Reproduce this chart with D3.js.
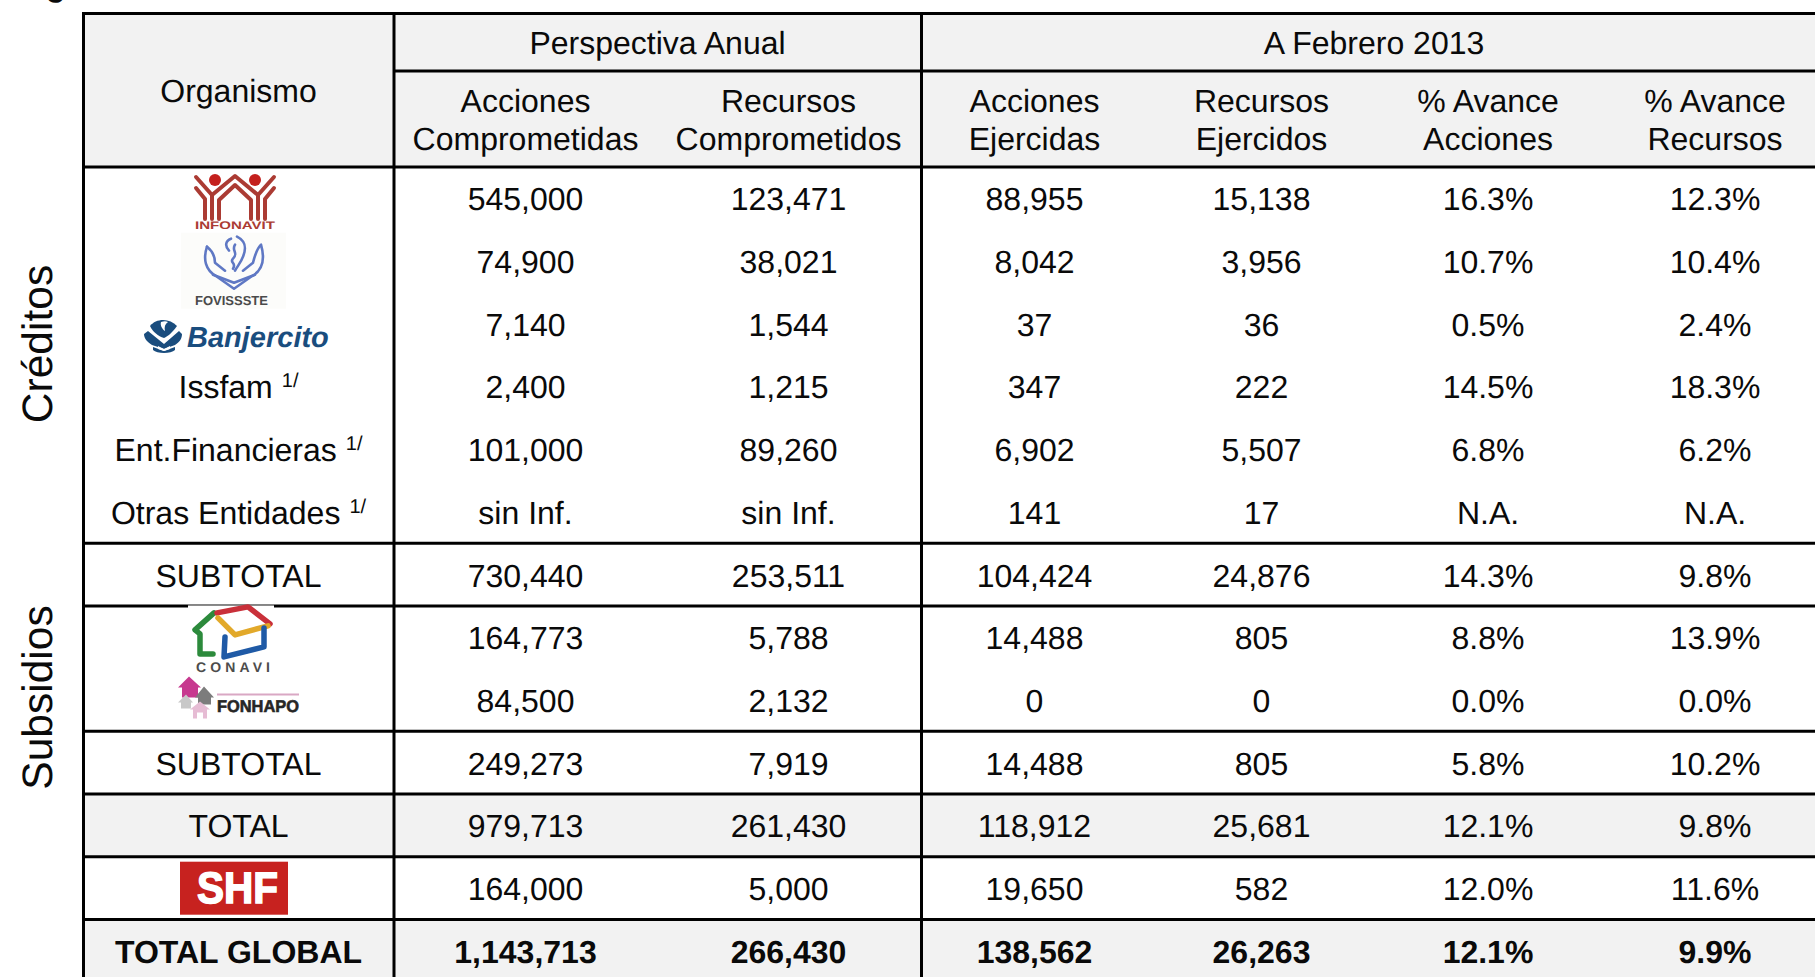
<!DOCTYPE html>
<html>
<head>
<meta charset="utf-8">
<script src="https://cdn.jsdelivr.net/npm/d3@7"></script>
<style>
  html, body { margin: 0; padding: 0; background: #fff; overflow: hidden; }
  text { font-family: "Liberation Sans", Arial, sans-serif; fill: #0a0a0a; text-rendering: geometricPrecision; }
</style>
</head>
<body>
<div id="chart"></div>
<script>
const rows = ['infonavit', 'fovissste', 'banjercito', 'issfam', 'financieras', 'otras', 'subtotal1',
  'conavi', 'fonhapo', 'subtotal2', 'total', 'sif', 'global'];

const rowNames = ['', '', '', 'Issfam', 'Ent.Financieras', 'Otras Entidades', 'SUBTOTAL',
  '', '', 'SUBTOTAL', 'TOTAL', '', 'TOTAL GLOBAL'];
const footnoted = ['issfam', 'financieras', 'otras'];

const accionesComp = ['545,000', '74,900', '7,140', '2,400', '101,000', 'sin Inf.', '730,440',
  '164,773', '84,500', '249,273', '979,713', '164,000', '1,143,713'];
const recursosComp = ['123,471', '38,021', '1,544', '1,215', '89,260', 'sin Inf.', '253,511',
  '5,788', '2,132', '7,919', '261,430', '5,000', '266,430'];
const accionesEjer = ['88,955', '8,042', '37', '347', '6,902', '141', '104,424',
  '14,488', '0', '14,488', '118,912', '19,650', '138,562'];
const recursosEjer = ['15,138', '3,956', '36', '222', '5,507', '17', '24,876',
  '805', '0', '805', '25,681', '582', '26,263'];
const avanceAcciones = ['16.3%', '10.7%', '0.5%', '14.5%', '6.8%', 'N.A.', '14.3%',
  '8.8%', '0.0%', '5.8%', '12.1%', '12.0%', '12.1%'];
const avanceRecursos = ['12.3%', '10.4%', '2.4%', '18.3%', '6.2%', 'N.A.', '9.8%',
  '13.9%', '0.0%', '10.2%', '9.8%', '11.6%', '9.9%'];

const columns = ['accionesComp', 'recursosComp', 'accionesEjer', 'recursosEjer', 'avanceAcciones', 'avanceRecursos'];
const columnValues = [accionesComp, recursosComp, accionesEjer, recursosEjer, avanceAcciones, avanceRecursos];
const columnHeads = [
  ['Acciones', 'Comprometidas'], ['Recursos', 'Comprometidos'],
  ['Acciones', 'Ejercidas'], ['Recursos', 'Ejercidos'],
  ['% Avance', 'Acciones'], ['% Avance', 'Recursos']
];

const width = 1815, height = 977;

const svg = d3.select('#chart')
  .append('svg')
  .attr('width', width)
  .attr('height', height)
  .style('display', 'block');

const rowY = d3.scaleBand().domain(rows).range([167, 167 + 13 * 62.7]);
const colX = d3.scaleOrdinal().domain(columns).range([525.5, 788.5, 1034.5, 1261.5, 1488, 1715]);

const xLeft = 83.5, xName = 394, xGroup = 921.5, yTop = 13.5, yGroup = 71, yHead = 167;
const nameX = 238.5;
const shadeColor = '#f2f2f2';
const bodySize = 32;
const rowBaseline = d => rowY(d) + rowY.bandwidth() / 2 + 12;

// shaded cells
const shade = svg.append('g').attr('fill', shadeColor);
shade.append('rect').attr('x', xLeft).attr('y', yTop).attr('width', width - xLeft).attr('height', yHead - yTop);
shade.selectAll('rect.band')
  .data(['total', 'global'])
  .join('rect')
  .attr('class', 'band')
  .attr('x', xLeft)
  .attr('y', d => rowY(d))
  .attr('width', width - xLeft)
  .attr('height', rowY.bandwidth());

// the cut off letter at the very top of the slide
svg.append('text').attr('x', 46).attr('y', -4).attr('font-size', 32).attr('font-weight', 'bold').text('g');

// header
const head = svg.append('g').attr('font-size', bodySize).attr('text-anchor', 'middle');
head.append('text').attr('x', nameX).attr('y', 102).text('Organismo');
head.append('text').attr('x', 657.5).attr('y', 54).text('Perspectiva Anual');
head.append('text').attr('x', 1374).attr('y', 54).text('A Febrero 2013');

columns.forEach((c, i) => {
  columnHeads[i].forEach((line, j) => {
    head.append('text')
      .attr('x', colX(c))
      .attr('y', 112 + j * 38)
      .text(line);
  });
});

// body values
columns.forEach((c, i) => {
  svg.append('g')
    .attr('font-size', bodySize)
    .attr('text-anchor', 'middle')
    .selectAll('text')
    .data(columnValues[i])
    .join('text')
    .attr('x', colX(c))
    .attr('y', (_, k) => rowBaseline(rows[k]))
    .attr('font-weight', (_, k) => rows[k] === 'global' ? 'bold' : null)
    .text(d => d);
});

// row names
const names = svg.append('g')
  .attr('font-size', bodySize)
  .attr('text-anchor', 'middle')
  .selectAll('text')
  .data(rows.filter((_, k) => rowNames[k] !== ''))
  .join('text')
  .attr('x', nameX)
  .attr('y', rowBaseline)
  .attr('font-weight', d => d === 'global' ? 'bold' : null)
  .text(d => rowNames[rows.indexOf(d)]);

names.filter(d => footnoted.includes(d))
  .append('tspan')
  .attr('font-size', 20)
  .attr('dx', 9)
  .attr('dy', -11)
  .text('1/');

// rotated group labels
const sideLabel = (label, cy) => {
  svg.append('text')
    .attr('transform', `translate(52, ${cy}) rotate(-90)`)
    .attr('text-anchor', 'middle')
    .attr('font-size', 42.5)
    .text(label);
};
sideLabel('Créditos', 344);
sideLabel('Subsidios', 697.5);

// rules
const rules = svg.append('g').attr('stroke', '#000').attr('stroke-width', 3);
rules.selectAll('line.v')
  .data([xLeft, xName, xGroup])
  .join('line')
  .attr('class', 'v')
  .attr('x1', d => d).attr('x2', d => d)
  .attr('y1', yTop - 1.5).attr('y2', height);
rules.selectAll('line.h')
  .data([yTop, yHead, rowY('subtotal1'), rowY('conavi'), rowY('subtotal2'), rowY('total'), rowY('sif'), rowY('global')])
  .join('line')
  .attr('class', 'h')
  .attr('x1', xLeft).attr('x2', width)
  .attr('y1', d => d).attr('y2', d => d);
rules.append('line').attr('x1', xName).attr('x2', width).attr('y1', yGroup).attr('y2', yGroup);

// logos, drawn in their own small coordinate boxes
const logo = (row, dx, dy) => svg.append('g')
  .attr('transform', `translate(${dx}, ${rowY(row) + dy})`);

const strokes = (g, color, w, paths) => {
  g.append('g')
    .attr('fill', 'none')
    .attr('stroke', color)
    .attr('stroke-width', w)
    .attr('stroke-linecap', 'round')
    .attr('stroke-linejoin', 'round')
    .selectAll('path')
    .data(paths)
    .join('path')
    .attr('d', d => d);
};

const fills = (g, items) => {
  g.append('g')
    .selectAll('path')
    .data(items)
    .join('path')
    .attr('fill', d => d[0])
    .attr('d', d => d[1]);
};

// Infonavit
const inf = logo('infonavit', 195, 7);
strokes(inf, '#ab3b33', 4, [
  'M1,14 L10,25 V45',
  'M1,3 L17,21 V45',
  'M17,21 L40,2 L63,21 V45',
  'M24,45 V26 L40,11 L56,26 V45',
  'M79,14 L70,25 V45',
  'M79,3 L63,21'
]);
inf.selectAll('circle').data([20, 60]).join('circle')
  .attr('cx', d => d).attr('cy', 6).attr('r', 6).attr('fill', '#c4201d');
inf.append('text').attr('x', 0).attr('y', 54.5).attr('font-size', 11).attr('font-weight', 'bold')
  .attr('textLength', 80).attr('lengthAdjust', 'spacingAndGlyphs')
  .style('fill', '#ab3b33').text('INFONAVIT');

// Fovissste
const fov = logo('fovissste', 181, 3);
fov.append('rect').attr('width', 105).attr('height', 76).attr('fill', '#fcfcfa');
strokes(fov, '#5f78c4', 2.6, [
  'M26,14 C22,26 24,38 36,44 L53,56 L70,44 C82,38 84,26 80,12 C76,16 74,22 72,30 L62,38',
  'M26,14 C31,18 34,24 34,30 L44,38',
  'M32,42 L53,50 L74,42',
  'M50,6 C44,8 44,14 48,18 M56,4 C64,8 66,14 62,24 C60,30 56,34 54,38',
  'M54,12 C50,18 58,20 52,26 C48,30 56,30 52,36'
]);
fov.append('text').attr('x', 14).attr('y', 72).attr('font-size', 13).attr('font-weight', 'bold')
  .attr('textLength', 73).attr('lengthAdjust', 'spacingAndGlyphs')
  .style('fill', '#4a4a4a').text('FOVISSSTE');

// Banjercito
const ban = logo('banjercito', 144, 25.6);
fills(ban, [
  ['#1a4d7e', 'M6,8 C12,0 26,0 33,8 C28,15 24,18 20,20 C14,18 9,14 6,8 Z'],
  ['#fff', 'M17,4 C20,3 22,3 24,4 C21,6 20,9 21,13 C18,11 16,7 17,4 Z'],
  ['#1a4d7e', 'M0,16 L4,13 L20,26 L35,13 L38,16 C38,20 36,24 31,27 L20,31 L8,27 C3,24 0,20 0,16 Z'],
  ['#1a4d7e', 'M9,29 L20,33 L31,29 V32 C27,36 13,36 9,32 Z'],
  ['#fff', 'M14,28 L20,31 L26,28 L26,31 L20,33 L14,31 Z']
]);
ban.append('text').attr('x', 43).attr('y', 28.7)
  .attr('font-size', 29).attr('font-weight', 'bold').attr('font-style', 'italic')
  .style('fill', '#1a4d7e').text('Banjercito');

// Conavi
const con = logo('conavi', 150, -6);
con.append('rect').attr('x', 38).attr('y', 4.5).attr('width', 86).attr('height', 1.6).attr('fill', '#8a8a8a');
con.append('rect').attr('x', 38).attr('y', 6.1).attr('width', 86).attr('height', 2.6).attr('fill', '#fff');
strokes(con, '#2c8a3c', 5.5, ['M64,13 L45,30 L50,34 V54 H63']);
strokes(con, '#c9303a', 5.5, ['M67,13 L98,7 L120,24']);
strokes(con, '#e2a92a', 5.5, ['M68,18 L85,35 L118,26']);
strokes(con, '#1f5aa6', 5.5, ['M75,37 L74,57 L114,47 V28']);
con.append('text').attr('x', 46).attr('y', 72).attr('font-size', 14).attr('font-weight', 'bold')
  .attr('textLength', 74).style('fill', '#4c4c4c').text('CONAVI');

// Fonhapo
const fon = logo('fonhapo', 177, 6);
fills(fon, [
  ['#c7398f', 'M1,13 L12,2 L24,13 H21 V23 H5 V13 Z'],
  ['#7c7c7c', 'M18,23 L27,12 L37,23 H34 V30 H21 V23 Z'],
  ['#c8c8c8', 'M1,28 L9,20 L16,28 H14 V34 H4 V28 Z'],
  ['#e6bcd4', 'M13,35 L23,27 L33,35 H30 V44 H26 V38 H20 V44 H16 V35 Z']
]);
fon.append('line').attr('x1', 40).attr('x2', 122).attr('y1', 20).attr('y2', 20)
  .attr('stroke', '#d9a8c4').attr('stroke-width', 2);
fon.append('text').attr('x', 40).attr('y', 37).attr('font-size', 17).attr('font-weight', 'bold')
  .attr('textLength', 82).attr('lengthAdjust', 'spacingAndGlyphs')
  .attr('stroke', '#262626').attr('stroke-width', 0.6)
  .style('fill', '#262626').text('FONHAPO');

// SHF
const shf = logo('sif', 180, 5);
shf.append('rect').attr('width', 108).attr('height', 53).attr('fill', '#c7221f');
shf.append('text').attr('x', 17).attr('y', 41)
  .attr('font-size', 44).attr('font-weight', 'bold')
  .attr('textLength', 81).attr('lengthAdjust', 'spacingAndGlyphs')
  .attr('stroke', '#fff').attr('stroke-width', 1.5)
  .style('fill', '#fff').text('SHF');
</script>
</body>
</html>
